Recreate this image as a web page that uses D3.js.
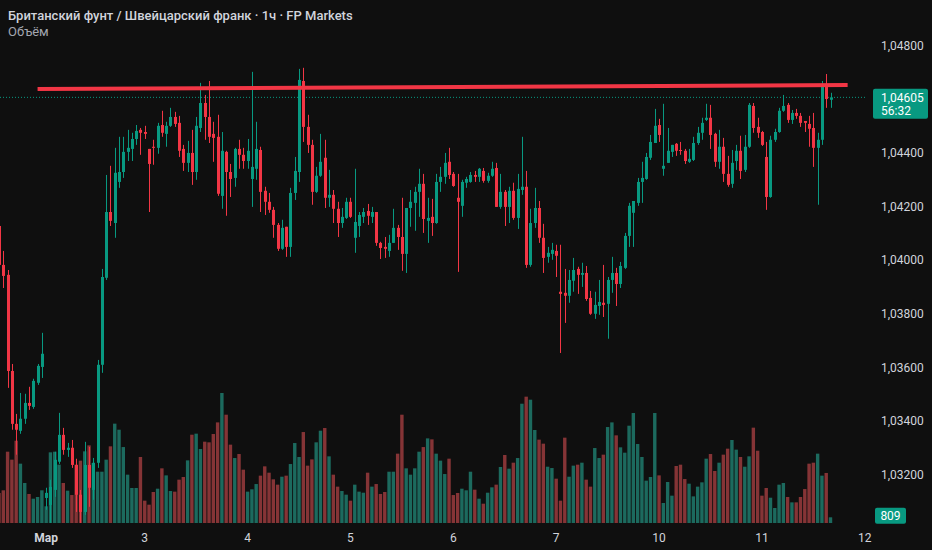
<!DOCTYPE html>
<html><head><meta charset="utf-8">
<script src="https://cdn.jsdelivr.net/npm/d3@7"></script>
<style>
html,body{margin:0;padding:0;background:#0f0f0f;overflow:hidden;}
svg{display:block;}
text{font-family:Roboto,"Noto Sans",sans-serif;}
</style></head>
<body><svg id="c" width="932" height="550"></svg>
<script>
// ---- data (bar index starts at -1; hourly bars) ----
const firstIndex = -1;
const open = [1.04126,1.03981,1.03944,1.03586,1.03389,1.03363,1.03408,1.03467,1.03452,1.03542,1.03601,1.03113,1.03087,1.03143,1.03248,1.03348,1.03292,1.03300,1.03236,1.03125,1.03061,1.03236,1.03143,1.03244,1.03609,1.03933,1.04178,1.04137,1.04290,1.04327,1.04402,1.04413,1.04450,1.04484,1.04476,1.04413,1.04421,1.04417,1.04502,1.04469,1.04499,1.04532,1.04510,1.04413,1.04361,1.04398,1.04327,1.04491,1.04584,1.04532,1.04469,1.04458,1.04238,1.04402,1.04327,1.04305,1.04413,1.04391,1.04368,1.04301,1.04339,1.04409,1.04257,1.04216,1.04186,1.04130,1.04041,1.04123,1.04048,1.04249,1.04327,1.04666,1.04495,1.04428,1.04253,1.04313,1.04380,1.04231,1.04242,1.04190,1.04137,1.04156,1.04216,1.04082,1.04126,1.04160,1.04182,1.04160,1.04178,1.04063,1.04048,1.04033,1.04063,1.04119,1.04085,1.04022,1.04193,1.04212,1.04253,1.04283,1.04145,1.04160,1.04137,1.04290,1.04309,1.04365,1.04320,1.04231,1.04201,1.04287,1.04290,1.04316,1.04309,1.04331,1.04294,1.04313,1.04342,1.04197,1.04253,1.04197,1.04257,1.04156,1.04260,1.04272,1.03981,1.04137,1.04193,1.04082,1.04011,1.04022,1.04033,1.03881,1.03877,1.03866,1.03922,1.03966,1.03944,1.03951,1.03858,1.03799,1.03828,1.03840,1.03836,1.03925,1.03951,1.03910,1.03970,1.04089,1.04175,1.04212,1.04290,1.04301,1.04380,1.04435,1.04502,1.04339,1.04361,1.04402,1.04432,1.04409,1.04406,1.04365,1.04372,1.04435,1.04473,1.04521,1.04529,1.04469,1.04365,1.04421,1.04320,1.04283,1.04368,1.04406,1.04335,1.04421,1.04573,1.04495,1.04476,1.04383,1.04234,1.04447,1.04476,1.04555,1.04577,1.04521,1.04547,1.04536,1.04517,1.04506,1.04491,1.04417,1.04447,1.04651,1.04596];
const high = [1.04141,1.04033,1.03962,1.03612,1.03426,1.03504,1.03501,1.03527,1.03557,1.03612,1.03728,1.03151,1.03181,1.03285,1.03430,1.03374,1.03318,1.03329,1.03259,1.03143,1.03322,1.03303,1.03262,1.03627,1.03966,1.04316,1.04350,1.04417,1.04458,1.04458,1.04484,1.04473,1.04502,1.04491,1.04499,1.04413,1.04447,1.04510,1.04555,1.04514,1.04566,1.04551,1.04536,1.04428,1.04443,1.04484,1.04532,1.04659,1.04614,1.04666,1.04514,1.04540,1.04476,1.04406,1.04357,1.04417,1.04447,1.04417,1.04450,1.04700,1.04514,1.04421,1.04272,1.04249,1.04197,1.04137,1.04149,1.04123,1.04268,1.04383,1.04711,1.04715,1.04540,1.04447,1.04346,1.04469,1.04447,1.04335,1.04260,1.04216,1.04193,1.04231,1.04231,1.04339,1.04178,1.04193,1.04208,1.04197,1.04178,1.04067,1.04085,1.04093,1.04190,1.04130,1.04231,1.04193,1.04260,1.04272,1.04339,1.04320,1.04231,1.04227,1.04320,1.04346,1.04398,1.04417,1.04327,1.04320,1.04298,1.04309,1.04327,1.04331,1.04342,1.04342,1.04324,1.04365,1.04361,1.04320,1.04260,1.04272,1.04287,1.04320,1.04458,1.04331,1.04190,1.04268,1.04219,1.04134,1.04048,1.04063,1.04056,1.04056,1.03966,1.03962,1.04007,1.03974,1.03989,1.03977,1.03884,1.03881,1.03925,1.03981,1.03936,1.04011,1.03970,1.03992,1.04100,1.04212,1.04219,1.04305,1.04365,1.04398,1.04465,1.04562,1.04525,1.04581,1.04491,1.04428,1.04435,1.04439,1.04413,1.04413,1.04458,1.04495,1.04529,1.04581,1.04577,1.04473,1.04484,1.04454,1.04387,1.04409,1.04428,1.04462,1.04465,1.04584,1.04584,1.04529,1.04480,1.04439,1.04462,1.04488,1.04566,1.04614,1.04584,1.04558,1.04562,1.04547,1.04517,1.04536,1.04547,1.04473,1.04666,1.04692,1.04622];
const low = [1.03970,1.03895,1.03523,1.03367,1.03274,1.03352,1.03389,1.03441,1.03445,1.03534,1.03560,1.03069,1.03020,1.03117,1.03240,1.03274,1.03266,1.03225,1.03061,1.03020,1.03050,1.03080,1.03106,1.03225,1.03579,1.03925,1.04126,1.04082,1.04268,1.04305,1.04368,1.04368,1.04428,1.04391,1.04450,1.04178,1.04354,1.04395,1.04458,1.04421,1.04495,1.04495,1.04383,1.04331,1.04327,1.04279,1.04298,1.04476,1.04447,1.04435,1.04365,1.04238,1.04190,1.04164,1.04234,1.04272,1.04339,1.04339,1.04339,1.04197,1.04298,1.04178,1.04167,1.04175,1.04082,1.04033,1.04037,1.04011,1.04011,1.04223,1.04290,1.04439,1.04398,1.04205,1.04249,1.04309,1.04193,1.04197,1.04137,1.04085,1.04119,1.04152,1.04156,1.04026,1.04085,1.04137,1.04130,1.04137,1.04052,1.04003,1.04007,1.04011,1.04063,1.04037,1.03959,1.03951,1.04123,1.04108,1.04160,1.04100,1.04063,1.04089,1.04134,1.04253,1.04283,1.04301,1.04272,1.03955,1.04160,1.04268,1.04287,1.04290,1.04290,1.04287,1.04287,1.04309,1.04197,1.04190,1.04126,1.04137,1.04149,1.04115,1.04242,1.03970,1.03974,1.04119,1.04063,1.03951,1.03989,1.04000,1.03936,1.03653,1.03765,1.03840,1.03881,1.03873,1.03899,1.03847,1.03795,1.03780,1.03795,1.03787,1.03706,1.03877,1.03828,1.03895,1.03966,1.04048,1.04048,1.04201,1.04212,1.04298,1.04372,1.04435,1.04439,1.04313,1.04361,1.04383,1.04387,1.04391,1.04357,1.04361,1.04368,1.04428,1.04447,1.04517,1.04413,1.04346,1.04339,1.04290,1.04272,1.04268,1.04335,1.04301,1.04327,1.04417,1.04473,1.04454,1.04424,1.04186,1.04231,1.04439,1.04473,1.04551,1.04510,1.04506,1.04525,1.04495,1.04476,1.04421,1.04346,1.04205,1.04428,1.04566,1.04566];
const close = [1.03981,1.03940,1.03586,1.03389,1.03367,1.03408,1.03467,1.03456,1.03549,1.03605,1.03650,1.03132,1.03154,1.03255,1.03348,1.03292,1.03300,1.03236,1.03125,1.03061,1.03236,1.03151,1.03244,1.03609,1.03936,1.04178,1.04145,1.04324,1.04327,1.04402,1.04417,1.04450,1.04480,1.04473,1.04469,1.04357,1.04417,1.04499,1.04473,1.04499,1.04532,1.04506,1.04406,1.04361,1.04398,1.04327,1.04499,1.04584,1.04532,1.04458,1.04454,1.04246,1.04406,1.04327,1.04301,1.04413,1.04391,1.04368,1.04406,1.04346,1.04413,1.04253,1.04216,1.04186,1.04130,1.04041,1.04119,1.04048,1.04249,1.04331,1.04670,1.04495,1.04428,1.04253,1.04313,1.04365,1.04231,1.04242,1.04190,1.04137,1.04160,1.04216,1.04160,1.04141,1.04167,1.04178,1.04164,1.04178,1.04063,1.04044,1.04041,1.04063,1.04119,1.04085,1.04022,1.04193,1.04216,1.04253,1.04283,1.04152,1.04156,1.04137,1.04290,1.04309,1.04361,1.04316,1.04275,1.04216,1.04290,1.04301,1.04316,1.04309,1.04339,1.04294,1.04313,1.04339,1.04197,1.04253,1.04197,1.04257,1.04156,1.04264,1.04272,1.03981,1.04137,1.04193,1.04082,1.04007,1.04026,1.04037,1.04015,1.03873,1.03866,1.03925,1.03962,1.03944,1.03951,1.03854,1.03799,1.03832,1.03843,1.03832,1.03925,1.03951,1.03910,1.03977,1.04089,1.04201,1.04219,1.04290,1.04305,1.04383,1.04439,1.04499,1.04465,1.04350,1.04406,1.04428,1.04406,1.04406,1.04368,1.04376,1.04435,1.04473,1.04510,1.04529,1.04465,1.04365,1.04421,1.04320,1.04279,1.04361,1.04406,1.04331,1.04421,1.04577,1.04491,1.04473,1.04428,1.04234,1.04447,1.04476,1.04555,1.04573,1.04521,1.04547,1.04536,1.04510,1.04510,1.04488,1.04417,1.04447,1.04648,1.04599,1.04605];
const volume = [4260,4640,10120,8990,11680,8420,5680,4120,3450,3690,4640,2370,10030,10120,8280,5680,4590,3970,8280,8850,10170,11020,8510,7280,7280,8990,10880,14100,13240,10780,6860,4970,4970,9370,3170,2600,4400,4870,7760,6760,4540,4450,6150,6530,8890,12530,12680,10500,11540,11450,12630,14280,18450,15370,11120,9220,9790,7570,4450,4780,5530,6720,8040,7140,6200,5440,6570,6720,8370,11350,9370,12910,8140,9030,11450,13100,13480,9460,6860,5160,4540,4020,3170,5440,4450,4300,7140,5160,5530,4120,4400,7280,7280,9840,15370,7760,6860,7760,10120,10780,12010,11870,9840,8850,6950,9130,3970,4260,4870,4640,7280,4730,3450,2740,4300,5060,5440,7950,9650,7710,8560,9220,16930,17930,17500,13200,11830,11260,7990,7800,6290,3170,12110,6570,8140,8280,8560,6150,5160,10640,9220,9700,13620,14280,12440,10740,9980,13810,15610,11210,9370,6010,6530,15610,6760,2840,5820,3880,8090,8280,6240,5580,3780,5160,5770,9130,9790,7380,8560,9700,10550,11780,10410,9370,7990,9460,13530,10260,3880,4970,3590,2130,5440,5680,3690,2930,2930,3690,4820,8420,8560,9840,6720,7100,809];
const timeTickIndex = [10,33,57,81,105,129,153,177,201];
const timeTickLabel = ["Мар","3","4","5","6","7","10","11","12"];
const priceTicks = [1.048,1.044,1.042,1.040,1.038,1.036,1.034,1.032];
const trendIndex = [8,197];
const trendPrice = [1.04636,1.04651];
const lastPrice = 1.04605;
const countdown = "56:32";
const titleText = "Британский фунт / Швейцарский франк · 1ч · FP Markets";
const volumeTitle = "Объём";

// ---- drawing ----
const W = 932, H = 550, plotRight = 866;
const UP = "#089981", DOWN = "#f23645";
const VUP = "#1c6a5e", VDOWN = "#853436";
const svg = d3.select("#c");
svg.append("rect").attr("width",W).attr("height",H).attr("fill","#0f0f0f");

const x = d3.scaleLinear().domain([0,193]).range([3.3,830.5]);
const y = d3.scaleLinear().domain([1.032,1.048]).range([474.6,45]);
const yv = d3.scaleLinear().domain([0,18450]).range([523,393]);

const bars = open.map((o,k)=>({i:k+firstIndex,o,h:high[k],l:low[k],c:close[k],v:volume[k]}));

svg.append("clipPath").attr("id","pc").append("rect").attr("x",0).attr("y",0).attr("width",plotRight).attr("height",528);
const plot = svg.append("g").attr("clip-path","url(#pc)");

// volume
plot.append("g").selectAll("rect").data(bars).join("rect")
  .attr("x",d=>x(d.i)-1.7).attr("width",3.4)
  .attr("y",d=>yv(d.v)).attr("height",d=>yv(0)-yv(d.v))
  .attr("fill",d=>d.c>=d.o?VUP:VDOWN);

// last price dotted line
plot.append("line").attr("x1",0).attr("x2",plotRight)
  .attr("y1",y(lastPrice)).attr("y2",y(lastPrice))
  .attr("stroke",UP).attr("stroke-width",1).attr("stroke-dasharray","1,2");

// candles
const cg = plot.append("g");
cg.selectAll("line").data(bars).join("line")
  .attr("x1",d=>Math.round(x(d.i))+0.5).attr("x2",d=>Math.round(x(d.i))+0.5)
  .attr("y1",d=>y(d.h)).attr("y2",d=>y(d.l))
  .attr("stroke",d=>d.c>=d.o?UP:DOWN).attr("stroke-width",1);
cg.selectAll("rect").data(bars).join("rect")
  .attr("x",d=>Math.round(x(d.i))-1).attr("width",3)
  .attr("y",d=>Math.min(y(d.o),y(d.c)))
  .attr("height",d=>Math.max(1,Math.abs(y(d.o)-y(d.c))))
  .attr("fill",d=>d.c>=d.o?UP:DOWN);

// trend line
plot.append("line")
  .attr("x1",x(trendIndex[0])).attr("y1",y(trendPrice[0]))
  .attr("x2",x(trendIndex[1])).attr("y2",y(trendPrice[1]))
  .attr("stroke",DOWN).attr("stroke-width",4);

// price axis labels
svg.append("g").selectAll("text").data(priceTicks).join("text")
  .attr("x",881).attr("y",d=>y(d)+4.5)
  .attr("fill","#d1d4dc").attr("font-size",12)
  .text(d=>d3.format(".5f")(d).replace(".",","));

// last price label
const ly = y(lastPrice);
svg.append("rect").attr("x",873).attr("y",ly-8.5).attr("width",55).attr("height",30).attr("rx",2).attr("fill",UP);
svg.append("text").attr("x",881).attr("y",ly+5).attr("fill","#ffffff").attr("font-size",12)
  .text(d3.format(".5f")(lastPrice).replace(".",","));
svg.append("text").attr("x",881).attr("y",ly+17.5).attr("fill","#ffffff").attr("font-size",12).text(countdown);

// last volume label
const lastBar = bars[bars.length-1];
const vy = yv(lastBar.v)-2;
svg.append("rect").attr("x",875).attr("y",vy-7.5).attr("width",31).attr("height",16).attr("rx",2)
  .attr("fill",lastBar.c>=lastBar.o?UP:DOWN);
svg.append("text").attr("x",890.5).attr("y",vy+4.5).attr("text-anchor","middle")
  .attr("fill","#ffffff").attr("font-size",12).text(d3.format("d")(lastBar.v));

// time axis labels
svg.append("g").selectAll("text").data(timeTickIndex).join("text")
  .attr("x",d=>x(d)).attr("y",542).attr("text-anchor","middle")
  .attr("fill","#d1d4dc").attr("font-size",12)
  .attr("font-weight",(d,k)=>k===0?"700":"400")
  .text((d,k)=>timeTickLabel[k]);

// legend
svg.append("text").attr("x",8).attr("y",20).attr("fill","#d1d4dc").attr("font-size",13)
  .attr("font-weight",500).text(titleText);
svg.append("text").attr("x",8).attr("y",36).attr("fill","#a3a6af").attr("font-size",13).text(volumeTitle);
</script>
</body></html>
